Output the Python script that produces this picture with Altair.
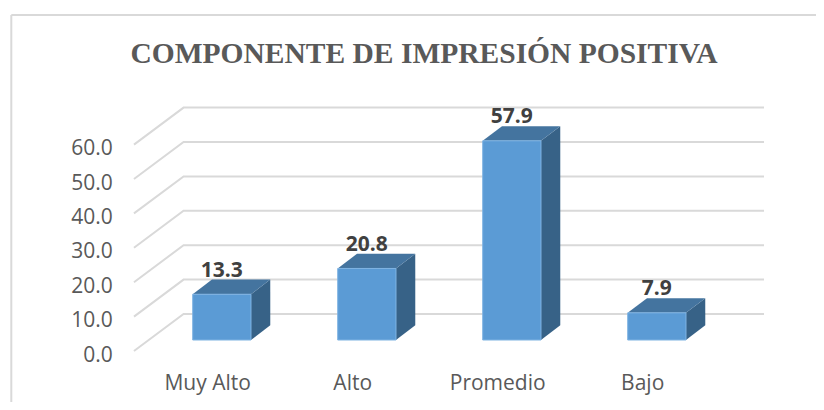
import json
import altair as alt
import pandas as pd

categories = ["Muy Alto", "Alto", "Promedio", "Bajo"]
values = [13.3, 20.8, 57.9, 7.9]
tick_values = [0, 10, 20, 30, 40, 50, 60]
title_text = "COMPONENTE DE IMPRESIÓN POSITIVA"

# Oblique-projection geometry, in scale units
BAR_W = 0.402
DEPTH_X = 0.133
DEPTH_Y = 4.27
FLOOR_Y = -3.2
WALL_DX = 0.342
WALL_DY = 10.76
GRID_START = -0.405
GRID_END = 3.94

X_SCALE = alt.Scale(domain=[-1.2738, 4.2986], nice=False, zero=False)
Y_SCALE = alt.Scale(domain=[-18.02, 96.51], nice=False, zero=False)

GRID = "#d9d9d9"
FRONT = "#5b9bd5"
TOP = "#44749f"
SIDE = "#376287"
MUTED = "#595959"
DARK = "#404040"

front, side, top, labels, grid = [], [], [], [], []
for i, (c, v) in enumerate(zip(categories, values)):
    x0, x1 = i, i + BAR_W
    front.append(dict(cat=c, x=x0, x2=x1, y=0, y2=v))
    side += [dict(cat=c, x=x1, y=0, y2=v),
             dict(cat=c, x=x1 + DEPTH_X, y=DEPTH_Y, y2=v + DEPTH_Y)]
    top += [dict(cat=c, x=x0, y=v, y2=v),
            dict(cat=c, x=x0 + DEPTH_X, y=v, y2=v + DEPTH_Y),
            dict(cat=c, x=x1, y=v, y2=v + DEPTH_Y),
            dict(cat=c, x=x1 + DEPTH_X, y=v + DEPTH_Y, y2=v + DEPTH_Y)]
    labels.append(dict(cat=c, x=(x0 + x1) / 2, y=v + DEPTH_Y, text=f"{v:.1f}"))
for t in tick_values:
    s = t + FLOOR_Y
    grid += [dict(tick=t, x=GRID_START, y=s, o=0),
             dict(tick=t, x=GRID_START + WALL_DX, y=s + WALL_DY, o=1),
             dict(tick=t, x=GRID_END, y=s + WALL_DY, o=2)]

X = alt.X("x:Q", scale=X_SCALE, title=None)
Y = alt.Y("y:Q", scale=Y_SCALE, title=None)

label_expr = json.dumps(categories) + "[round(datum.value)]"

axis_layer = alt.Chart(pd.DataFrame(grid)).mark_line(
    color=GRID, strokeWidth=2
).encode(
    x=alt.X("x:Q", scale=X_SCALE, title=None, axis=alt.Axis(
        values=list(range(len(categories))), labelExpr=label_expr,
        orient="bottom", offset=-12.5, labelPadding=0, labelBaseline="alphabetic",
        labelOffset=14.5, labelFont="Open Sans", labelFontSize=21,
        labelColor=MUTED, domain=False, ticks=False, grid=False,
        labelOverlap=False, labelBound=False, labelFlush=False)),
    y=alt.Y("y:Q", scale=Y_SCALE, title=None, axis=alt.Axis(
        values=tick_values, format=".1f", orient="left", offset=-104.3,
        labelPadding=0, labelOffset=15, labelFont="Open Sans", labelFontSize=21,
        labelColor=MUTED, domain=False, ticks=False, grid=False,
        labelOverlap=False, labelBound=False, labelFlush=False)),
    detail="tick:N",
    order="o:Q",
)

one = pd.DataFrame([{"k": 1}])
border_left = alt.Chart(one).mark_rule(color=GRID, strokeWidth=2).encode(
    x=alt.value(3.3), y=alt.value(7), y2=alt.value(394))
border_top = alt.Chart(one).mark_rule(color=GRID, strokeWidth=2).encode(
    y=alt.value(7), x=alt.value(3.3), x2=alt.value(808))

side_layer = alt.Chart(pd.DataFrame(side)).mark_area(color=SIDE).encode(
    x=X, y=Y, y2="y2:Q", detail="cat:N")
top_layer = alt.Chart(pd.DataFrame(top)).mark_area(color=TOP).encode(
    x=X, y=Y, y2="y2:Q", detail="cat:N")
front_layer = alt.Chart(pd.DataFrame(front)).mark_rect(
    color=FRONT, stroke="#7fb3e2", strokeWidth=1
).encode(x=X, x2="x2:Q", y=Y, y2="y2:Q")
label_layer = alt.Chart(pd.DataFrame(labels)).mark_text(
    font="Open Sans", fontSize=21, fontWeight="bold", color=DARK,
    baseline="alphabetic", align="center", dy=-3
).encode(x=X, y=Y, text="text:N")

chart = alt.layer(
    border_left, border_top, axis_layer, side_layer, top_layer, front_layer, label_layer
).properties(
    width=808,
    height=394,
    padding=0,
    autosize=alt.AutoSizeParams(type="none"),
    background="#ffffff",
    title=alt.TitleParams(
        text=title_text, font="Liberation Serif", fontSize=29.5, fontWeight="bold",
        color=MUTED, anchor="middle", frame="group", orient="top",
        offset=-84.4, baseline="alphabetic", dx=12),
).configure_view(stroke=None)

chart.save("out.html", embed_options={"renderer": "svg", "actions": False})
